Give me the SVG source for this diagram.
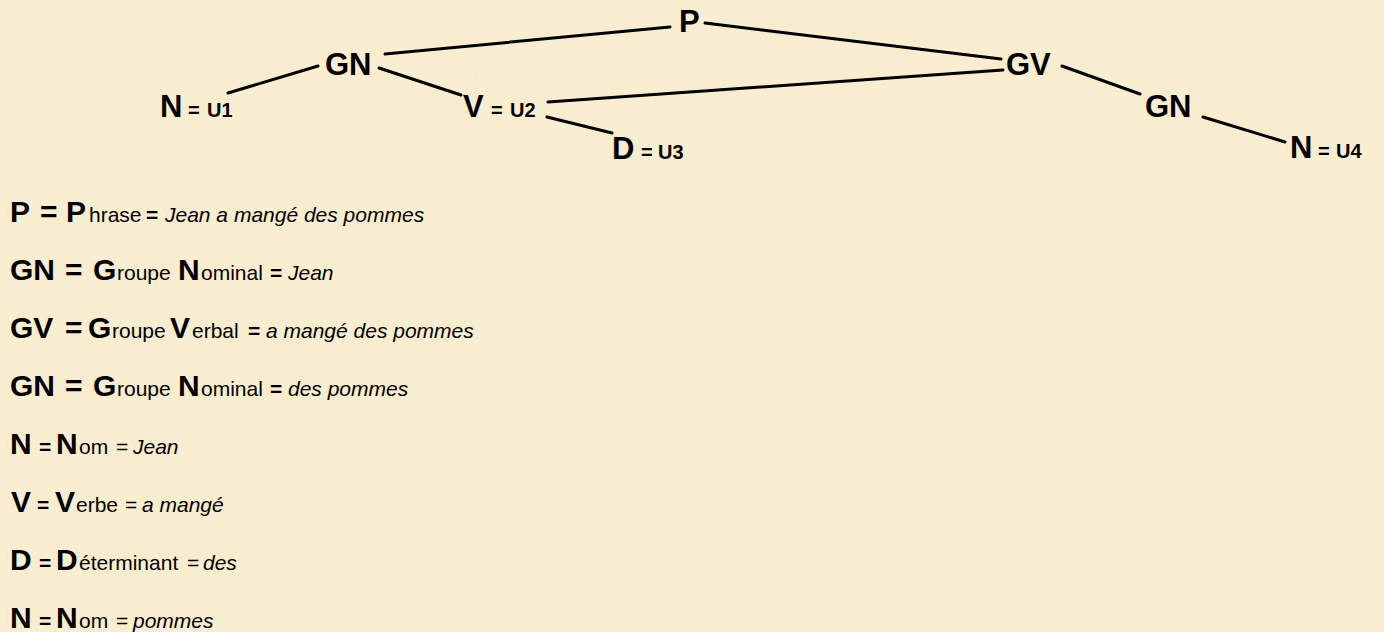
<svg xmlns="http://www.w3.org/2000/svg" width="1384" height="632" viewBox="0 0 1384 632">
<style>
.big{font-family:"Liberation Sans",Arial,sans-serif;font-weight:bold;font-size:31px;fill:#000}
.sm{font-family:"Liberation Sans",Arial,sans-serif;font-weight:bold;font-size:20px;fill:#000}
.lb{font-family:"Liberation Sans",Arial,sans-serif;font-weight:bold;font-size:30px;fill:#000}
.lr{font-family:"Liberation Sans",Arial,sans-serif;font-size:21px;fill:#000}
.lrb{font-family:"Liberation Sans",Arial,sans-serif;font-weight:bold;font-size:21px;fill:#000}
.li{font-family:"Liberation Sans",Arial,sans-serif;font-style:italic;font-size:21px;fill:#000}
.edge{stroke:#000;stroke-width:3;stroke-linecap:round;fill:none}
</style>
<defs>
<filter id="tex" x="0" y="0" width="100%" height="100%">
<feTurbulence type="fractalNoise" baseFrequency="0.02" numOctaves="3" seed="4"/>
<feColorMatrix type="matrix" values="0 0 0 0 0.93  0 0 0 0 0.86  0 0 0 0 0.7  0 0 0 0.35 0"/>
</filter>
</defs>
<rect width="1384" height="632" fill="#F9EDCF"/>
<rect width="1384" height="632" filter="url(#tex)" opacity="0.35"/>
<g id="connectors">
<line class="edge" x1="385" y1="54" x2="670" y2="27"/>
<line class="edge" x1="705" y1="23" x2="1001" y2="59"/>
<line class="edge" x1="228" y1="93" x2="318" y2="66"/>
<line class="edge" x1="379" y1="68" x2="461" y2="95"/>
<line class="edge" x1="548" y1="102" x2="1003" y2="70"/>
<line class="edge" x1="547" y1="117" x2="612" y2="133"/>
<line class="edge" x1="1062" y1="66" x2="1140" y2="94"/>
<line class="edge" x1="1203" y1="117" x2="1285" y2="142"/>
</g>
<g id="node-P"><text class="big" x="679" y="32">P</text></g>
<g id="node-GN1"><text class="big" x="325" y="75">GN</text></g>
<g id="node-N1"><text class="big" x="160" y="117">N</text><text class="sm" x="188" y="117">=</text><text class="sm" x="207" y="117">U1</text></g>
<g id="node-V"><text class="big" x="463" y="117">V</text><text class="sm" x="491" y="117">=</text><text class="sm" x="510" y="117">U2</text></g>
<g id="node-D"><text class="big" x="612" y="159">D</text><text class="sm" x="641" y="159">=</text><text class="sm" x="658" y="159">U3</text></g>
<g id="node-GV"><text class="big" x="1006" y="75">GV</text></g>
<g id="node-GN2"><text class="big" x="1145" y="117">GN</text></g>
<g id="node-N4"><text class="big" x="1290" y="158">N</text><text class="sm" x="1318" y="158">=</text><text class="sm" x="1336" y="158">U4</text></g>
<g id="legend">
<text y="222"><tspan class="lb" x="10">P</tspan><tspan class="lb" x="40">=</tspan><tspan class="lb" x="66">P</tspan><tspan class="lr" x="89">hrase</tspan><tspan class="lrb" x="146">=</tspan><tspan class="li" x="165">Jean a mangé des pommes</tspan></text>
<text y="280"><tspan class="lb" x="10">GN</tspan><tspan class="lb" x="65">=</tspan><tspan class="lb" x="93">G</tspan><tspan class="lr" x="117">roupe</tspan><tspan class="lb" x="178">N</tspan><tspan class="lr" x="201">ominal</tspan><tspan class="lrb" x="270">=</tspan><tspan class="li" x="288">Jean</tspan></text>
<text y="338"><tspan class="lb" x="10">GV</tspan><tspan class="lb" x="65">=</tspan><tspan class="lb" x="88">G</tspan><tspan class="lr" x="112">roupe</tspan><tspan class="lb" x="170">V</tspan><tspan class="lr" x="192">erbal</tspan><tspan class="lrb" x="248">=</tspan><tspan class="li" x="266">a mangé des pommes</tspan></text>
<text y="396"><tspan class="lb" x="10">GN</tspan><tspan class="lb" x="65">=</tspan><tspan class="lb" x="93">G</tspan><tspan class="lr" x="117">roupe</tspan><tspan class="lb" x="178">N</tspan><tspan class="lr" x="201">ominal</tspan><tspan class="lrb" x="270">=</tspan><tspan class="li" x="288">des pommes</tspan></text>
<text y="454"><tspan class="lb" x="10">N</tspan><tspan class="lrb" x="39">=</tspan><tspan class="lb" x="56">N</tspan><tspan class="lr" x="79">om</tspan><tspan class="lr" x="116">=</tspan><tspan class="li" x="133">Jean</tspan></text>
<text y="512"><tspan class="lb" x="11">V</tspan><tspan class="lrb" x="37">=</tspan><tspan class="lb" x="55">V</tspan><tspan class="lr" x="76">erbe</tspan><tspan class="lr" x="125">=</tspan><tspan class="li" x="142">a mangé</tspan></text>
<text y="570"><tspan class="lb" x="10">D</tspan><tspan class="lrb" x="39">=</tspan><tspan class="lb" x="56">D</tspan><tspan class="lr" x="79">éterminant</tspan><tspan class="lr" x="187">=</tspan><tspan class="li" x="203">des</tspan></text>
<text y="628"><tspan class="lb" x="10">N</tspan><tspan class="lrb" x="39">=</tspan><tspan class="lb" x="56">N</tspan><tspan class="lr" x="79">om</tspan><tspan class="lr" x="116">=</tspan><tspan class="li" x="133">pommes</tspan></text>
</g>
</svg>
